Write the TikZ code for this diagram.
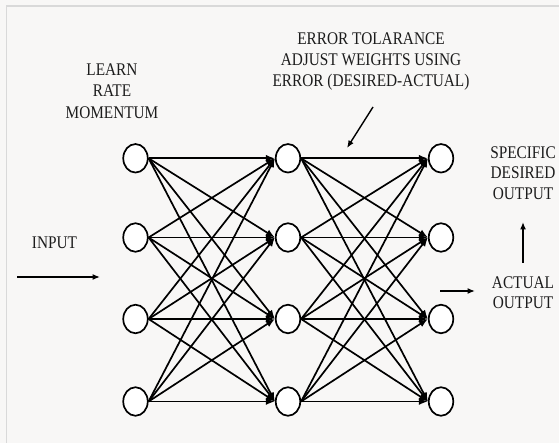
\documentclass[tikz,border=0pt]{standalone}
\usepackage{fontspec}
\setmainfont{Liberation Serif}
\newfontfamily\lblfont{Liberation Serif}[FakeStretch=0.86]
\usetikzlibrary{arrows.meta,shapes.geometric}
\definecolor{bgcol}{HTML}{F8F7F6}
\definecolor{framecol}{HTML}{D9D9D9}
\definecolor{txtcol}{HTML}{1C1C1C}
\begin{document}
\begin{tikzpicture}[x=1pt,y=-1pt,
  neuron/.style={draw, line width=1.7pt, ellipse, minimum width=24.5pt, minimum height=28.5pt, fill=white, inner sep=0pt},
  edge/.style={line width=1.7pt, -{Latex[length=9pt,width=7pt]}},
  note/.style={line width=1.4pt, -{Latex[length=7.5pt,width=6pt]}},
  lbl/.style={inner sep=0pt, align=center, text=txtcol, font=\lblfont\fontsize{17.8}{21.3}\selectfont}]
\useasboundingbox (0,0) rectangle (559,443);
\fill[bgcol] (0,0) rectangle (559,443);
\draw[framecol, line width=1.6pt] (6.4,443) -- (6.4,6) -- (559,6);

% neurons
\foreach \r/\y in {1/158.3,2/237.5,3/319,4/401.5}{
  \node[neuron] (a\r) at (135.5,\y) {};
  \node[neuron] (b\r) at (288,\y) {};
  \node[neuron] (c\r) at (441,\y) {};
}
% connections
\foreach \i in {1,...,4}{
  \foreach \j in {1,...,4}{
    \draw[edge] (a\i.east) -- (b\j.west);
    \draw[edge] (b\i.east) -- (c\j.west);
  }
}

% texts
\node[lbl] (learn) at (112,91) {LEARN\\RATE\\MOMENTUM};
\node[lbl] (err) at (371,61.5) {ERROR TOLARANCE\\ADJUST WEIGHTS USING\\ERROR (DESIRED-ACTUAL)};
\node[lbl] (input) at (54.5,243) {INPUT};
\node[lbl, font=\lblfont\fontsize{17.8}{20.2}\selectfont] (spec) at (523,173) {SPECIFIC\\DESIRED\\OUTPUT};
\node[lbl, font=\lblfont\fontsize{17.8}{20.2}\selectfont] (act) at (523,293) {ACTUAL\\OUTPUT};

% annotation arrows
\coordinate (inS) at (17,277);
\coordinate (inE) at (100,277);
\draw[note] (inS) -- (inE);
\coordinate (erS) at (373,107);
\coordinate (erE) at (347,148);
\draw[note] (erS) -- (erE);
\coordinate (acS) at (440,291);
\coordinate (acE) at (475,291);
\draw[note] (acS) -- (acE);
\coordinate (upS) at (523,263);
\coordinate (upE) at (523,222);
\draw[note] (upS) -- (upE);
\end{tikzpicture}
\end{document}
